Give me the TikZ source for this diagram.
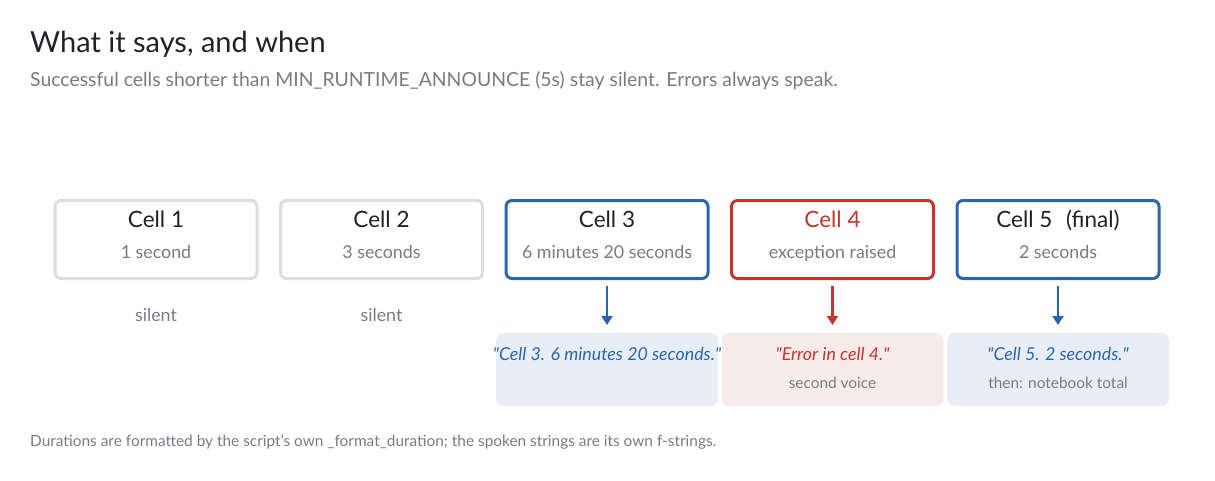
\documentclass[tikz,border=0pt]{standalone}
\usepackage{fontspec}
\setmainfont{Lato}
\usetikzlibrary{positioning,arrows.meta}
\definecolor{ink}{HTML}{1F2328}
\definecolor{muted}{HTML}{767B85}
\definecolor{edgegray}{HTML}{DCDDE3}
\definecolor{speakblue}{HTML}{2A66AD}
\definecolor{speakred}{HTML}{C2362D}
\definecolor{bluefill}{HTML}{E9EEF6}
\definecolor{redfill}{HTML}{F7EBE9}

\tikzset{
  cell/.style={draw=#1, line width=3pt, rounded corners=6pt, fill=white,
    minimum width=202pt, minimum height=78pt, inner sep=0pt},
  cellname/.style={font=\fontsize{22.5}{26}\selectfont, text=#1},
  celltime/.style={font=\fontsize{17.8}{21}\selectfont, text=muted},
  bubble/.style={fill=#1, rounded corners=7pt, minimum width=222pt,
    minimum height=73pt, inner sep=0pt, outer sep=0pt},
  spoken/.style={font=\fontsize{17.8}{21}\selectfont\itshape, text=#1},
  note/.style={font=\fontsize{15.4}{18}\selectfont, text=muted},
  says/.style={line width=2.4pt, draw=#1, -{Triangle[length=9pt,width=11pt]}},
}

\begin{document}
\begin{tikzpicture}[x=1pt, y=-1pt, node distance=20.5pt]
  \useasboundingbox (0,0) rectangle (1215,480);

  % Heading
  \node[anchor=base west, inner sep=0pt, text=ink, font=\fontsize{29}{32}\selectfont] (title) at (30,52) {What it says, and when};
  \node[anchor=base west, inner sep=0pt, text=muted, font=\fontsize{19.4}{23}\selectfont] (subtitle) at (30,86) {Successful cells shorter than MIN\_RUNTIME\_ANNOUNCE (5s) stay silent. Errors always speak.};

  % Cells
  \node[cell=edgegray] (c1) at (156,239.5) {};
  \node[cell=edgegray, right=of c1] (c2) {};
  \node[cell=speakblue, right=of c2] (c3) {};
  \node[cell=speakred, right=of c3] (c4) {};
  \node[cell=speakblue, right=of c4] (c5) {};

  \node[cellname=ink, anchor=base] at ([yshift=12pt]c1.center) {Cell 1};
  \node[cellname=ink, anchor=base] at ([yshift=12pt]c2.center) {Cell 2};
  \node[cellname=ink, anchor=base] at ([yshift=12pt]c3.center) {Cell 3};
  \node[cellname=speakred, anchor=base] at ([yshift=12pt]c4.center) {Cell 4};
  \node[cellname=ink, anchor=base] at ([yshift=12pt]c5.center) {Cell 5\hspace{0.6em}(final)};

  \node[celltime, anchor=base] at ([yshift=-19pt]c1.center) {1 second};
  \node[celltime, anchor=base] at ([yshift=-19pt]c2.center) {3 seconds};
  \node[celltime, anchor=base] at ([yshift=-19pt]c3.center) {6 minutes 20 seconds};
  \node[celltime, anchor=base] at ([yshift=-19pt]c4.center) {exception raised};
  \node[celltime, anchor=base] at ([yshift=-19pt]c5.center) {2 seconds};

  % Silent cells
  \node[celltime, anchor=base] (s1) at ([yshift=-82pt]c1.center) {silent};
  \node[celltime, anchor=base] (s2) at ([yshift=-82pt]c2.center) {silent};

  % Spoken strings
  \node[bubble=bluefill] (b3) at ([yshift=-130pt]c3.center) {};
  \node[bubble=redfill] (b4) at ([yshift=-130pt]c4.center) {};
  \node[bubble=bluefill] (b5) at ([yshift=-130pt]c5.center) {};

  \node[spoken=speakblue, anchor=base] at ([yshift=9pt]b3.center) {\textquotedbl Cell 3. 6 minutes 20 seconds.\textquotedbl};
  \node[spoken=speakred, anchor=base] at ([yshift=9pt]b4.center) {\textquotedbl Error in cell 4.\textquotedbl};
  \node[spoken=speakblue, anchor=base] at ([yshift=9pt]b5.center) {\textquotedbl Cell 5. 2 seconds.\textquotedbl};
  \node[note, anchor=base] at ([yshift=-19pt]b4.center) {second voice};
  \node[note, anchor=base] at ([yshift=-19pt]b5.center) {then: notebook total};

  \draw[says=speakblue] ([yshift=-6pt]c3.south) -- ([yshift=8pt]b3.north);
  \draw[says=speakred] ([yshift=-6pt]c4.south) -- ([yshift=8pt]b4.north);
  \draw[says=speakblue] ([yshift=-6pt]c5.south) -- ([yshift=8pt]b5.north);

  % Footer
  \node[note, anchor=base west, inner sep=0pt] (footer) at (30,446) {Durations are formatted by the script's own \_format\_duration; the spoken strings are its own f-strings.};
\end{tikzpicture}
\end{document}
